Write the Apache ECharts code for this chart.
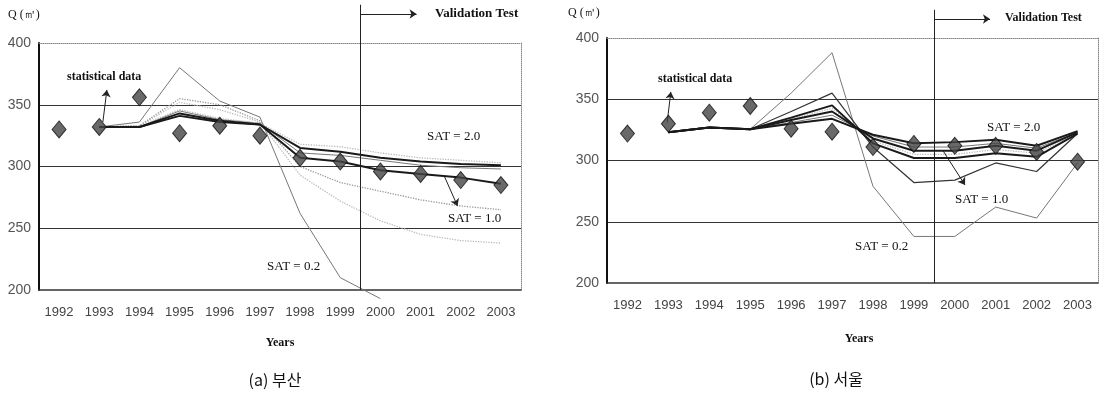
<!DOCTYPE html>
<html>
<head>
<meta charset="utf-8">
<script src="https://cdn.jsdelivr.net/npm/echarts@6/dist/echarts.min.js"></script>
<style>
html, body { margin: 0; background: #fff; }
#container { width: 1103px; height: 393px; }
</style>
</head>
<body>
<div id="container"></div>
<script>
// categories and axis range
var years = ['1992', '1993', '1994', '1995', '1996', '1997', '1998', '1999', '2000', '2001', '2002', '2003'];
var yMin = 200, yMax = 400, yStep = 50;

// (a) 부산 - statistical data and model runs
var busanObs   = [330, 332, 356, 327, 333, 325, 307, 304, 296, 294, 289, 285];
var busanSat02 = [null, 332, 336, 380, 353, 340, 262, 210, 193, null, null, null];
var busanB     = [null, 332, 333, 355, 350, 337, 300, 287, 280, 273, 268, 265];
var busanC     = [null, 332, 333, 352, 346, 336, 293, 272, 256, 245, 240, 238];
var busanD     = [null, 332, 332, 341, 336, 334, 307, 304, 297, 294, 291, 286];
var busanE     = [null, 332, 332, 343, 337, 334, 315, 312, 307, 304, 302, 301];
var busanF     = [null, 332, 333, 346, 339, 335, 318, 316, 311, 307, 305, 303];
var busanG     = [null, 332, 332, 345, 338, 335, 311, 309, 305, 301, 299, 298];

// (b) 서울
var seoulObs   = [322, 330, 339, 344.5, 326, 323.5, 311, 313.5, 312, 312, 307, 299];
var seoulSat02 = [null, 323, 327, 325.5, 355, 388, 279, 238, 238, 262, 253, 298];
var seoulB     = [null, 323, 327, 325.5, 340, 355, 311, 282, 284, 298, 291, 322];
var seoulC     = [null, 323, 327, 325.5, 335, 345, 314, 302, 302, 306, 303, 322];
var seoulD     = [null, 323, 327, 325.5, 334, 342.6, 316, 305, 305, 309, 306, 322];
var seoulE     = [null, 323, 327, 325.5, 333, 340, 318, 308, 308, 312, 308, 323];
var seoulF     = [null, 323, 327, 325.5, 331, 337, 320, 311, 311, 314, 310, 323];
var seoulG     = [null, 323, 327, 325.5, 330, 334, 321, 314, 315, 317, 312, 324];

var myChart = echarts.init(document.getElementById('container'));

// line looks used in the figure
var thin   = { color: '#777', width: 1, type: 'solid' };
var dark   = { color: '#333', width: 1.2, type: 'solid' };
var bold   = { color: '#1a1a1a', width: 2, type: 'solid' };
var dotted = { color: '#999', width: 1.3, type: 'dotted' };
var faint  = { color: '#bbb', width: 1.3, type: 'dotted' };

var grids = [
    { left: 39, top: 43, width: 482, height: 247 },
    { left: 607, top: 38, width: 491, height: 245 }
];

function catAxis(g) {
    return {
        gridIndex: g, type: 'category', data: years, boundaryGap: true,
        axisLine: { onZero: false, lineStyle: { color: '#333', width: 1.5 } },
        axisTick: { inside: true, length: 3, lineStyle: { color: '#333' } },
        axisLabel: { color: '#444', fontSize: 13, margin: 16, fontFamily: 'Liberation Sans' },
        splitLine: { show: false }
    };
}
// hidden value axis over the same grid: used for the annotation lines and the top border
function noteAxis(g) {
    return {
        gridIndex: g, type: 'value', min: -0.5, max: 11.5, position: 'top',
        axisLine: { show: true, onZero: false, lineStyle: { color: '#888', type: 'dotted' } },
        axisTick: { show: false }, axisLabel: { show: false }, splitLine: { show: false }
    };
}
function leftAxis(g) {
    return {
        gridIndex: g, type: 'value', min: yMin, max: yMax, interval: yStep, position: 'left',
        axisLine: { show: true, onZero: false, lineStyle: { color: '#111', width: 2 } },
        axisTick: { show: false },
        axisLabel: { color: '#555', fontSize: 14, margin: 8, fontFamily: 'Liberation Sans' },
        splitLine: { show: true, showMinLine: false, showMaxLine: false, lineStyle: { color: '#333', width: 1.2 } }
    };
}
function rightAxis(g) {
    return {
        gridIndex: g, type: 'value', min: yMin, max: yMax, position: 'right',
        axisLine: { show: true, onZero: false, lineStyle: { color: '#888', type: 'dotted' } },
        axisTick: { show: false }, axisLabel: { show: false }, splitLine: { show: false }
    };
}

function modelLine(g, data, style) {
    return {
        type: 'line', xAxisIndex: g * 2, yAxisIndex: g * 2, data: data,
        symbol: 'none', clip: false, silent: true, z: 2, lineStyle: style
    };
}
function obsPoints(g, data) {
    return {
        type: 'scatter', xAxisIndex: g * 2, yAxisIndex: g * 2, data: data,
        symbol: 'diamond', symbolSize: [14, 17], z: 5, silent: true,
        itemStyle: { color: '#444', borderColor: '#111', borderWidth: 1 }
    };
}
function noteLines(g, segs, arrow) {
    return {
        type: 'lines', coordinateSystem: 'cartesian2d', xAxisIndex: g * 2 + 1, yAxisIndex: g * 2,
        clip: false, silent: true, z: 4,
        symbol: arrow ? ['none', 'arrow'] : 'none', symbolSize: 7,
        lineStyle: { color: '#222', width: 1, opacity: 1, curveness: 0 },
        data: segs.map(function (s) { return { coords: s }; })
    };
}

function txt(x, y, text, font, align) {
    return {
        type: 'text', x: x, y: y, silent: true,
        style: { text: text, font: font, fill: '#111', align: align || 'left', verticalAlign: 'middle' }
    };
}
var serif = '"Liberation Serif", "Times New Roman", serif';
var kr = '"Noto Sans CJK KR", sans-serif';

var option = {
    animation: false,
    backgroundColor: '#fff',
    grid: grids,
    xAxis: [catAxis(0), noteAxis(0), catAxis(1), noteAxis(1)],
    yAxis: [leftAxis(0), rightAxis(0), leftAxis(1), rightAxis(1)],
    series: [
        modelLine(0, busanSat02, thin),
        modelLine(0, busanC, faint),
        modelLine(0, busanB, dotted),
        modelLine(0, busanG, thin),
        modelLine(0, busanF, faint),
        modelLine(0, busanE, bold),
        modelLine(0, busanD, bold),
        obsPoints(0, busanObs),
        noteLines(0, [[[7.5, 200], [7.5, 431]]], false),
        noteLines(0, [[[7.5, 423.5], [8.9, 423.5]], [[1.09, 336], [1.19, 362]], [[9.6, 291.5], [9.92, 268]]], true),

        modelLine(1, seoulSat02, thin),
        modelLine(1, seoulB, dark),
        modelLine(1, seoulD, faint),
        modelLine(1, seoulF, thin),
        modelLine(1, seoulC, bold),
        modelLine(1, seoulE, bold),
        modelLine(1, seoulG, bold),
        obsPoints(1, seoulObs),
        noteLines(1, [[[7.5, 200], [7.5, 423]]], false),
        noteLines(1, [[[7.5, 415.5], [8.86, 415.5]], [[0.97, 331], [1.06, 356]], [[7.7, 308.6], [8.25, 280]]], true)
    ],
    graphic: [
        txt(8, 15, 'Q (㎥)', '12px ' + serif),
        txt(67, 77, 'statistical data', 'bold 12px ' + serif),
        txt(435, 14, 'Validation Test', 'bold 13px ' + serif),
        txt(427, 137, 'SAT = 2.0', '13px ' + serif),
        txt(448, 219, 'SAT = 1.0', '13px ' + serif),
        txt(267, 267, 'SAT = 0.2', '13px ' + serif),
        txt(280, 343, 'Years', 'bold 12px ' + serif, 'center'),
        txt(275, 380, '(a) 부산', '16px ' + kr, 'center'),

        txt(568, 13, 'Q (㎥)', '12px ' + serif),
        txt(658, 79, 'statistical data', 'bold 12px ' + serif),
        txt(1005, 18, 'Validation Test', 'bold 12px ' + serif),
        txt(987, 128, 'SAT = 2.0', '13px ' + serif),
        txt(955, 200, 'SAT = 1.0', '13px ' + serif),
        txt(855, 247, 'SAT = 0.2', '13px ' + serif),
        txt(859, 339, 'Years', 'bold 12px ' + serif, 'center'),
        txt(836, 379, '(b) 서울', '16px ' + kr, 'center')
    ]
};

myChart.setOption(option);
</script>
</body>
</html>
